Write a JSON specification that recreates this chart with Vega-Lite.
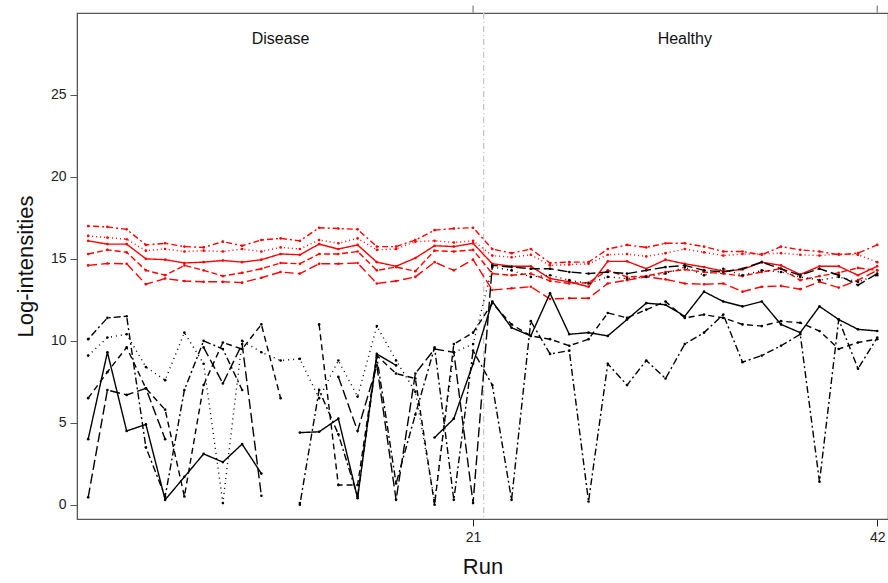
{
  "$schema": "https://vega.github.io/schema/vega-lite/v6.json",
  "width": 811,
  "height": 506,
  "autosize": "none",
  "padding": {"left": 77, "top": 13, "right": 0, "bottom": 64},
  "background": "white",
  "config": {
    "view": {"stroke": "#555", "strokeWidth": 1.2},
    "font": "Liberation Sans"
  },
  "datasets": {
    "lines": [
      {"run":1,"f":"R1","g":"red","v":17.0},{"run":2,"f":"R1","g":"red","v":16.95},{"run":3,"f":"R1","g":"red","v":16.8},{"run":4,"f":"R1","g":"red","v":15.85},{"run":5,"f":"R1","g":"red","v":15.95},{"run":6,"f":"R1","g":"red","v":15.75},{"run":7,"f":"R1","g":"red","v":15.7},{"run":8,"f":"R1","g":"red","v":16.05},{"run":9,"f":"R1","g":"red","v":15.8},{"run":10,"f":"R1","g":"red","v":16.15},{"run":11,"f":"R1","g":"red","v":16.25},{"run":12,"f":"R1","g":"red","v":16.1},{"run":13,"f":"R1","g":"red","v":16.9},{"run":14,"f":"R1","g":"red","v":16.85},{"run":15,"f":"R1","g":"red","v":16.8},{"run":16,"f":"R1","g":"red","v":15.75},{"run":17,"f":"R1","g":"red","v":15.75},{"run":18,"f":"R1","g":"red","v":16.15},{"run":19,"f":"R1","g":"red","v":16.75},{"run":20,"f":"R1","g":"red","v":16.85},{"run":21,"f":"R1","g":"red","v":16.9},
      {"run":22,"f":"R1","g":"red","v":15.6},{"run":23,"f":"R1","g":"red","v":15.35},{"run":24,"f":"R1","g":"red","v":15.6},{"run":25,"f":"R1","g":"red","v":14.75},{"run":26,"f":"R1","g":"red","v":14.8},{"run":27,"f":"R1","g":"red","v":14.8},{"run":28,"f":"R1","g":"red","v":15.6},{"run":29,"f":"R1","g":"red","v":15.85},{"run":30,"f":"R1","g":"red","v":15.7},{"run":31,"f":"R1","g":"red","v":15.95},{"run":32,"f":"R1","g":"red","v":15.95},{"run":33,"f":"R1","g":"red","v":15.75},{"run":34,"f":"R1","g":"red","v":15.45},{"run":35,"f":"R1","g":"red","v":15.45},{"run":36,"f":"R1","g":"red","v":15.25},{"run":37,"f":"R1","g":"red","v":15.75},{"run":38,"f":"R1","g":"red","v":15.55},{"run":39,"f":"R1","g":"red","v":15.45},{"run":40,"f":"R1","g":"red","v":15.25},{"run":41,"f":"R1","g":"red","v":15.35},{"run":42,"f":"R1","g":"red","v":15.85},

      {"run":1,"f":"R2","g":"red","v":16.4},{"run":2,"f":"R2","g":"red","v":16.3},{"run":3,"f":"R2","g":"red","v":16.2},{"run":4,"f":"R2","g":"red","v":15.5},{"run":5,"f":"R2","g":"red","v":15.6},{"run":6,"f":"R2","g":"red","v":15.45},{"run":7,"f":"R2","g":"red","v":15.5},{"run":8,"f":"R2","g":"red","v":15.45},{"run":9,"f":"R2","g":"red","v":15.6},{"run":10,"f":"R2","g":"red","v":15.45},{"run":11,"f":"R2","g":"red","v":15.7},{"run":12,"f":"R2","g":"red","v":15.6},{"run":13,"f":"R2","g":"red","v":16.15},{"run":14,"f":"R2","g":"red","v":15.95},{"run":15,"f":"R2","g":"red","v":16.25},{"run":16,"f":"R2","g":"red","v":15.55},{"run":17,"f":"R2","g":"red","v":15.6},{"run":18,"f":"R2","g":"red","v":16.05},{"run":19,"f":"R2","g":"red","v":16.1},{"run":20,"f":"R2","g":"red","v":16.0},{"run":21,"f":"R2","g":"red","v":16.1},
      {"run":22,"f":"R2","g":"red","v":15.2},{"run":23,"f":"R2","g":"red","v":15.1},{"run":24,"f":"R2","g":"red","v":15.25},{"run":25,"f":"R2","g":"red","v":14.6},{"run":26,"f":"R2","g":"red","v":14.65},{"run":27,"f":"R2","g":"red","v":14.7},{"run":28,"f":"R2","g":"red","v":15.25},{"run":29,"f":"R2","g":"red","v":15.3},{"run":30,"f":"R2","g":"red","v":15.15},{"run":31,"f":"R2","g":"red","v":15.35},{"run":32,"f":"R2","g":"red","v":15.6},{"run":33,"f":"R2","g":"red","v":15.4},{"run":34,"f":"R2","g":"red","v":15.2},{"run":35,"f":"R2","g":"red","v":15.3},{"run":36,"f":"R2","g":"red","v":15.3},{"run":37,"f":"R2","g":"red","v":15.35},{"run":38,"f":"R2","g":"red","v":15.25},{"run":39,"f":"R2","g":"red","v":15.2},{"run":40,"f":"R2","g":"red","v":15.3},{"run":41,"f":"R2","g":"red","v":15.25},{"run":42,"f":"R2","g":"red","v":14.8},

      {"run":1,"f":"R3","g":"red","v":16.1},{"run":2,"f":"R3","g":"red","v":15.9},{"run":3,"f":"R3","g":"red","v":15.9},{"run":4,"f":"R3","g":"red","v":15.0},{"run":5,"f":"R3","g":"red","v":14.95},{"run":6,"f":"R3","g":"red","v":14.75},{"run":7,"f":"R3","g":"red","v":14.8},{"run":8,"f":"R3","g":"red","v":14.9},{"run":9,"f":"R3","g":"red","v":14.8},{"run":10,"f":"R3","g":"red","v":14.95},{"run":11,"f":"R3","g":"red","v":15.3},{"run":12,"f":"R3","g":"red","v":15.25},{"run":13,"f":"R3","g":"red","v":15.9},{"run":14,"f":"R3","g":"red","v":15.6},{"run":15,"f":"R3","g":"red","v":15.85},{"run":16,"f":"R3","g":"red","v":14.8},{"run":17,"f":"R3","g":"red","v":14.55},{"run":18,"f":"R3","g":"red","v":15.05},{"run":19,"f":"R3","g":"red","v":15.8},{"run":20,"f":"R3","g":"red","v":15.75},{"run":21,"f":"R3","g":"red","v":15.95},
      {"run":22,"f":"R3","g":"red","v":14.7},{"run":23,"f":"R3","g":"red","v":14.55},{"run":24,"f":"R3","g":"red","v":14.55},{"run":25,"f":"R3","g":"red","v":13.8},{"run":26,"f":"R3","g":"red","v":13.6},{"run":27,"f":"R3","g":"red","v":13.3},{"run":28,"f":"R3","g":"red","v":14.85},{"run":29,"f":"R3","g":"red","v":14.85},{"run":30,"f":"R3","g":"red","v":14.4},{"run":31,"f":"R3","g":"red","v":14.95},{"run":32,"f":"R3","g":"red","v":14.7},{"run":33,"f":"R3","g":"red","v":14.5},{"run":34,"f":"R3","g":"red","v":14.25},{"run":35,"f":"R3","g":"red","v":14.35},{"run":36,"f":"R3","g":"red","v":14.8},{"run":37,"f":"R3","g":"red","v":14.6},{"run":38,"f":"R3","g":"red","v":14.05},{"run":39,"f":"R3","g":"red","v":14.55},{"run":40,"f":"R3","g":"red","v":14.55},{"run":41,"f":"R3","g":"red","v":14.0},{"run":42,"f":"R3","g":"red","v":14.55},

      {"run":1,"f":"R4","g":"red","v":15.3},{"run":2,"f":"R4","g":"red","v":15.55},{"run":3,"f":"R4","g":"red","v":15.4},{"run":4,"f":"R4","g":"red","v":14.3},{"run":5,"f":"R4","g":"red","v":14.0},{"run":6,"f":"R4","g":"red","v":14.6},{"run":7,"f":"R4","g":"red","v":14.3},{"run":8,"f":"R4","g":"red","v":13.95},{"run":9,"f":"R4","g":"red","v":14.15},{"run":10,"f":"R4","g":"red","v":14.4},{"run":11,"f":"R4","g":"red","v":14.75},{"run":12,"f":"R4","g":"red","v":14.7},{"run":13,"f":"R4","g":"red","v":15.3},{"run":14,"f":"R4","g":"red","v":15.3},{"run":15,"f":"R4","g":"red","v":15.45},{"run":16,"f":"R4","g":"red","v":14.3},{"run":17,"f":"R4","g":"red","v":14.5},{"run":18,"f":"R4","g":"red","v":14.25},{"run":19,"f":"R4","g":"red","v":15.5},{"run":20,"f":"R4","g":"red","v":15.45},{"run":21,"f":"R4","g":"red","v":15.55},
      {"run":22,"f":"R4","g":"red","v":14.1},{"run":23,"f":"R4","g":"red","v":14.0},{"run":24,"f":"R4","g":"red","v":14.1},{"run":25,"f":"R4","g":"red","v":13.65},{"run":26,"f":"R4","g":"red","v":13.5},{"run":27,"f":"R4","g":"red","v":13.55},{"run":28,"f":"R4","g":"red","v":14.3},{"run":29,"f":"R4","g":"red","v":13.9},{"run":30,"f":"R4","g":"red","v":13.95},{"run":31,"f":"R4","g":"red","v":14.2},{"run":32,"f":"R4","g":"red","v":14.35},{"run":33,"f":"R4","g":"red","v":14.2},{"run":34,"f":"R4","g":"red","v":14.1},{"run":35,"f":"R4","g":"red","v":13.95},{"run":36,"f":"R4","g":"red","v":14.2},{"run":37,"f":"R4","g":"red","v":14.4},{"run":38,"f":"R4","g":"red","v":13.7},{"run":39,"f":"R4","g":"red","v":13.95},{"run":40,"f":"R4","g":"red","v":14.15},{"run":41,"f":"R4","g":"red","v":14.45},{"run":42,"f":"R4","g":"red","v":14.3},

      {"run":1,"f":"R5","g":"red","v":14.6},{"run":2,"f":"R5","g":"red","v":14.72},{"run":3,"f":"R5","g":"red","v":14.7},{"run":4,"f":"R5","g":"red","v":13.45},{"run":5,"f":"R5","g":"red","v":13.8},{"run":6,"f":"R5","g":"red","v":13.65},{"run":7,"f":"R5","g":"red","v":13.6},{"run":8,"f":"R5","g":"red","v":13.6},{"run":9,"f":"R5","g":"red","v":13.55},{"run":10,"f":"R5","g":"red","v":13.85},{"run":11,"f":"R5","g":"red","v":14.2},{"run":12,"f":"R5","g":"red","v":14.1},{"run":13,"f":"R5","g":"red","v":14.7},{"run":14,"f":"R5","g":"red","v":14.7},{"run":15,"f":"R5","g":"red","v":14.75},{"run":16,"f":"R5","g":"red","v":13.5},{"run":17,"f":"R5","g":"red","v":13.65},{"run":18,"f":"R5","g":"red","v":13.9},{"run":19,"f":"R5","g":"red","v":14.8},{"run":20,"f":"R5","g":"red","v":14.3},{"run":21,"f":"R5","g":"red","v":14.95},
      {"run":22,"f":"R5","g":"red","v":13.1},{"run":23,"f":"R5","g":"red","v":13.2},{"run":24,"f":"R5","g":"red","v":13.3},{"run":25,"f":"R5","g":"red","v":12.55},{"run":26,"f":"R5","g":"red","v":12.6},{"run":27,"f":"R5","g":"red","v":12.6},{"run":28,"f":"R5","g":"red","v":13.5},{"run":29,"f":"R5","g":"red","v":13.7},{"run":30,"f":"R5","g":"red","v":13.9},{"run":31,"f":"R5","g":"red","v":13.75},{"run":32,"f":"R5","g":"red","v":13.5},{"run":33,"f":"R5","g":"red","v":13.45},{"run":34,"f":"R5","g":"red","v":13.5},{"run":35,"f":"R5","g":"red","v":13.0},{"run":36,"f":"R5","g":"red","v":13.3},{"run":37,"f":"R5","g":"red","v":13.35},{"run":38,"f":"R5","g":"red","v":13.15},{"run":39,"f":"R5","g":"red","v":13.6},{"run":40,"f":"R5","g":"red","v":13.25},{"run":41,"f":"R5","g":"red","v":13.7},{"run":42,"f":"R5","g":"red","v":14.3},

      {"run":1,"f":"B1","g":"black","v":4.0},{"run":2,"f":"B1","g":"black","v":9.3},{"run":3,"f":"B1","g":"black","v":4.5},{"run":4,"f":"B1","g":"black","v":4.9},{"run":5,"f":"B1","g":"black","v":0.3},{"run":6,"f":"B1","g":"black","v":1.7},{"run":7,"f":"B1","g":"black","v":3.1},{"run":8,"f":"B1","g":"black","v":2.6},{"run":9,"f":"B1","g":"black","v":3.7},{"run":10,"f":"B1","g":"black","v":1.9},{"run":11,"f":"B1","g":"black","v":null},{"run":12,"f":"B1","g":"black","v":4.4},{"run":13,"f":"B1","g":"black","v":4.45},{"run":14,"f":"B1","g":"black","v":5.25},{"run":15,"f":"B1","g":"black","v":0.4},{"run":16,"f":"B1","g":"black","v":9.2},{"run":17,"f":"B1","g":"black","v":8.5},{"run":18,"f":"B1","g":"black","v":null},{"run":19,"f":"B1","g":"black","v":4.1},{"run":20,"f":"B1","g":"black","v":5.25},{"run":21,"f":"B1","g":"black","v":8.6},
      {"run":22,"f":"B1","g":"black","v":12.4},{"run":23,"f":"B1","g":"black","v":10.8},{"run":24,"f":"B1","g":"black","v":10.3},{"run":25,"f":"B1","g":"black","v":12.9},{"run":26,"f":"B1","g":"black","v":10.4},{"run":27,"f":"B1","g":"black","v":10.5},{"run":28,"f":"B1","g":"black","v":10.3},{"run":29,"f":"B1","g":"black","v":11.3},{"run":30,"f":"B1","g":"black","v":12.3},{"run":31,"f":"B1","g":"black","v":12.2},{"run":32,"f":"B1","g":"black","v":11.5},{"run":33,"f":"B1","g":"black","v":13.0},{"run":34,"f":"B1","g":"black","v":12.4},{"run":35,"f":"B1","g":"black","v":12.1},{"run":36,"f":"B1","g":"black","v":12.4},{"run":37,"f":"B1","g":"black","v":11.0},{"run":38,"f":"B1","g":"black","v":10.5},{"run":39,"f":"B1","g":"black","v":12.1},{"run":40,"f":"B1","g":"black","v":11.3},{"run":41,"f":"B1","g":"black","v":10.7},{"run":42,"f":"B1","g":"black","v":10.6},

      {"run":1,"f":"B2","g":"black","v":6.5},{"run":2,"f":"B2","g":"black","v":8.1},{"run":3,"f":"B2","g":"black","v":9.6},{"run":4,"f":"B2","g":"black","v":7.1},{"run":5,"f":"B2","g":"black","v":5.8},{"run":6,"f":"B2","g":"black","v":0.5},{"run":7,"f":"B2","g":"black","v":7.3},{"run":8,"f":"B2","g":"black","v":9.9},{"run":9,"f":"B2","g":"black","v":9.5},{"run":10,"f":"B2","g":"black","v":11.0},{"run":11,"f":"B2","g":"black","v":6.5},{"run":12,"f":"B2","g":"black","v":null},{"run":13,"f":"B2","g":"black","v":11.0},{"run":14,"f":"B2","g":"black","v":1.2},{"run":15,"f":"B2","g":"black","v":1.2},{"run":16,"f":"B2","g":"black","v":9.1},{"run":17,"f":"B2","g":"black","v":8.0},{"run":18,"f":"B2","g":"black","v":7.7},{"run":19,"f":"B2","g":"black","v":0.0},{"run":20,"f":"B2","g":"black","v":9.8},{"run":21,"f":"B2","g":"black","v":10.5},
      {"run":22,"f":"B2","g":"black","v":12.3},{"run":23,"f":"B2","g":"black","v":11.0},{"run":24,"f":"B2","g":"black","v":10.3},{"run":25,"f":"B2","g":"black","v":10.1},{"run":26,"f":"B2","g":"black","v":9.7},{"run":27,"f":"B2","g":"black","v":10.1},{"run":28,"f":"B2","g":"black","v":11.7},{"run":29,"f":"B2","g":"black","v":11.4},{"run":30,"f":"B2","g":"black","v":11.9},{"run":31,"f":"B2","g":"black","v":12.4},{"run":32,"f":"B2","g":"black","v":11.4},{"run":33,"f":"B2","g":"black","v":11.6},{"run":34,"f":"B2","g":"black","v":11.4},{"run":35,"f":"B2","g":"black","v":11.0},{"run":36,"f":"B2","g":"black","v":10.9},{"run":37,"f":"B2","g":"black","v":11.2},{"run":38,"f":"B2","g":"black","v":11.1},{"run":39,"f":"B2","g":"black","v":10.6},{"run":40,"f":"B2","g":"black","v":9.5},{"run":41,"f":"B2","g":"black","v":9.9},{"run":42,"f":"B2","g":"black","v":10.1},

      {"run":1,"f":"B3","g":"black","v":9.1},{"run":2,"f":"B3","g":"black","v":10.2},{"run":3,"f":"B3","g":"black","v":10.4},{"run":4,"f":"B3","g":"black","v":8.4},{"run":5,"f":"B3","g":"black","v":7.6},{"run":6,"f":"B3","g":"black","v":10.5},{"run":7,"f":"B3","g":"black","v":8.6},{"run":8,"f":"B3","g":"black","v":0.1},{"run":9,"f":"B3","g":"black","v":10.0},{"run":10,"f":"B3","g":"black","v":9.3},{"run":11,"f":"B3","g":"black","v":8.8},{"run":12,"f":"B3","g":"black","v":8.9},{"run":13,"f":"B3","g":"black","v":6.5},{"run":14,"f":"B3","g":"black","v":8.8},{"run":15,"f":"B3","g":"black","v":6.6},{"run":16,"f":"B3","g":"black","v":10.9},{"run":17,"f":"B3","g":"black","v":8.8},{"run":18,"f":"B3","g":"black","v":6.9},{"run":19,"f":"B3","g":"black","v":0.2},{"run":20,"f":"B3","g":"black","v":9.3},{"run":21,"f":"B3","g":"black","v":9.8},
      {"run":22,"f":"B3","g":"black","v":14.5},{"run":23,"f":"B3","g":"black","v":14.3},{"run":24,"f":"B3","g":"black","v":13.9},{"run":25,"f":"B3","g":"black","v":14.0},{"run":26,"f":"B3","g":"black","v":13.7},{"run":27,"f":"B3","g":"black","v":13.5},{"run":28,"f":"B3","g":"black","v":13.9},{"run":29,"f":"B3","g":"black","v":13.8},{"run":30,"f":"B3","g":"black","v":13.9},{"run":31,"f":"B3","g":"black","v":14.1},{"run":32,"f":"B3","g":"black","v":14.5},{"run":33,"f":"B3","g":"black","v":14.0},{"run":34,"f":"B3","g":"black","v":14.4},{"run":35,"f":"B3","g":"black","v":14.0},{"run":36,"f":"B3","g":"black","v":14.3},{"run":37,"f":"B3","g":"black","v":14.2},{"run":38,"f":"B3","g":"black","v":13.9},{"run":39,"f":"B3","g":"black","v":13.7},{"run":40,"f":"B3","g":"black","v":13.9},{"run":41,"f":"B3","g":"black","v":13.6},{"run":42,"f":"B3","g":"black","v":14.0},

      {"run":1,"f":"B4","g":"black","v":10.1},{"run":2,"f":"B4","g":"black","v":11.4},{"run":3,"f":"B4","g":"black","v":11.5},{"run":4,"f":"B4","g":"black","v":3.5},{"run":5,"f":"B4","g":"black","v":0.5},{"run":6,"f":"B4","g":"black","v":7.0},{"run":7,"f":"B4","g":"black","v":10.0},{"run":8,"f":"B4","g":"black","v":9.5},{"run":9,"f":"B4","g":"black","v":7.0},{"run":10,"f":"B4","g":"black","v":null},{"run":11,"f":"B4","g":"black","v":null},{"run":12,"f":"B4","g":"black","v":0.0},{"run":13,"f":"B4","g":"black","v":7.0},{"run":14,"f":"B4","g":"black","v":4.3},{"run":15,"f":"B4","g":"black","v":0.5},{"run":16,"f":"B4","g":"black","v":9.0},{"run":17,"f":"B4","g":"black","v":1.3},{"run":18,"f":"B4","g":"black","v":5.5},{"run":19,"f":"B4","g":"black","v":9.6},{"run":20,"f":"B4","g":"black","v":0.3},{"run":21,"f":"B4","g":"black","v":9.4},
      {"run":22,"f":"B4","g":"black","v":7.3},{"run":23,"f":"B4","g":"black","v":0.3},{"run":24,"f":"B4","g":"black","v":11.2},{"run":25,"f":"B4","g":"black","v":9.2},{"run":26,"f":"B4","g":"black","v":9.4},{"run":27,"f":"B4","g":"black","v":0.2},{"run":28,"f":"B4","g":"black","v":8.6},{"run":29,"f":"B4","g":"black","v":7.3},{"run":30,"f":"B4","g":"black","v":8.8},{"run":31,"f":"B4","g":"black","v":7.7},{"run":32,"f":"B4","g":"black","v":9.8},{"run":33,"f":"B4","g":"black","v":10.5},{"run":34,"f":"B4","g":"black","v":11.6},{"run":35,"f":"B4","g":"black","v":8.7},{"run":36,"f":"B4","g":"black","v":9.1},{"run":37,"f":"B4","g":"black","v":9.7},{"run":38,"f":"B4","g":"black","v":10.4},{"run":39,"f":"B4","g":"black","v":1.4},{"run":40,"f":"B4","g":"black","v":11.3},{"run":41,"f":"B4","g":"black","v":8.3},{"run":42,"f":"B4","g":"black","v":10.2},

      {"run":1,"f":"B5","g":"black","v":0.45},{"run":2,"f":"B5","g":"black","v":7.0},{"run":3,"f":"B5","g":"black","v":6.7},{"run":4,"f":"B5","g":"black","v":7.1},{"run":5,"f":"B5","g":"black","v":4.0},{"run":6,"f":"B5","g":"black","v":null},{"run":7,"f":"B5","g":"black","v":9.6},{"run":8,"f":"B5","g":"black","v":7.4},{"run":9,"f":"B5","g":"black","v":9.8},{"run":10,"f":"B5","g":"black","v":0.55},{"run":11,"f":"B5","g":"black","v":null},{"run":12,"f":"B5","g":"black","v":0.1},{"run":13,"f":"B5","g":"black","v":null},{"run":14,"f":"B5","g":"black","v":7.8},{"run":15,"f":"B5","g":"black","v":4.5},{"run":16,"f":"B5","g":"black","v":8.5},{"run":17,"f":"B5","g":"black","v":0.3},{"run":18,"f":"B5","g":"black","v":8.0},{"run":19,"f":"B5","g":"black","v":9.5},{"run":20,"f":"B5","g":"black","v":9.3},{"run":21,"f":"B5","g":"black","v":0.1},
      {"run":22,"f":"B5","g":"black","v":14.6},{"run":23,"f":"B5","g":"black","v":14.5},{"run":24,"f":"B5","g":"black","v":14.4},{"run":25,"f":"B5","g":"black","v":14.4},{"run":26,"f":"B5","g":"black","v":14.2},{"run":27,"f":"B5","g":"black","v":14.1},{"run":28,"f":"B5","g":"black","v":14.2},{"run":29,"f":"B5","g":"black","v":14.1},{"run":30,"f":"B5","g":"black","v":14.3},{"run":31,"f":"B5","g":"black","v":14.5},{"run":32,"f":"B5","g":"black","v":14.6},{"run":33,"f":"B5","g":"black","v":14.3},{"run":34,"f":"B5","g":"black","v":14.2},{"run":35,"f":"B5","g":"black","v":14.4},{"run":36,"f":"B5","g":"black","v":14.8},{"run":37,"f":"B5","g":"black","v":14.4},{"run":38,"f":"B5","g":"black","v":14.0},{"run":39,"f":"B5","g":"black","v":14.4},{"run":40,"f":"B5","g":"black","v":14.0},{"run":41,"f":"B5","g":"black","v":13.4},{"run":42,"f":"B5","g":"black","v":14.1}
    ],
    "labels": [
      {"run": 11, "v": 28.4, "label": "Disease"},
      {"run": 32, "v": 28.4, "label": "Healthy"}
    ],
    "divider": [{"run": 21.55}]
  },
  "encoding": {
    "x": {
      "field": "run", "type": "quantitative",
      "scale": {"domain": [0.42, 42.56], "nice": false, "zero": false},
      "axis": {
        "values": [21, 42], "title": "Run", "grid": false,
        "labelFontSize": 14, "titleFontSize": 22, "titleFontWeight": "normal",
        "titlePadding": 12, "tickSize": 7, "labelPadding": 4,
        "domainColor": "#555", "tickColor": "#222", "labelColor": "#222", "titleColor": "#111"
      }
    },
    "y": {
      "field": "v", "type": "quantitative",
      "scale": {"domain": [-0.87, 30], "nice": false, "zero": false},
      "axis": {
        "values": [0, 5, 10, 15, 20, 25], "title": "Log-intensities", "grid": false,
        "labelFontSize": 14, "titleFontSize": 22, "titleFontWeight": "normal",
        "titlePadding": 13, "tickSize": 7, "labelPadding": 4,
        "domainColor": "#555", "tickColor": "#555", "labelColor": "#222", "titleColor": "#111"
      }
    }
  },
  "layer": [
    {
      "data": {"name": "divider"},
      "mark": {"type": "rule", "color": "#c8c8c8", "strokeDash": [6, 3, 1, 3], "strokeWidth": 1.3},
      "encoding": {"y": {"value": 0}, "y2": {"value": 506}}
    },
    {
      "data": {"name": "lines"},
      "mark": {"type": "line", "strokeWidth": 1.4, "invalid": "break-paths-show-domains", "clip": true},
      "encoding": {
        "detail": {"field": "f"},
        "color": {"field": "g", "type": "nominal", "scale": {"domain": ["red", "black"], "range": ["#ff0000", "#000000"]}, "legend": null},
        "strokeDash": {"field": "f", "type": "nominal", "scale": {"domain": ["R1","R2","R3","R4","R5","B1","B2","B3","B4","B5"], "range": [[2,3,6,3],[1,3],[1,0],[6,3],[9,4],[1,0],[6,4],[1,4],[2,3,7,3],[10,4]]}, "legend": null}
      }
    },
    {
      "data": {"name": "lines"},
      "mark": {"type": "point", "filled": true, "size": 7, "opacity": 1, "clip": true},
      "encoding": {
        "color": {"field": "g", "type": "nominal", "scale": {"domain": ["red", "black"], "range": ["#ff0000", "#000000"]}, "legend": null}
      }
    },
    {
      "data": {"name": "labels"},
      "mark": {"type": "text", "fontSize": 16, "color": "#111", "font": "Liberation Sans"},
      "encoding": {"text": {"field": "label"}}
    },
    {
      "data": {"values": [{"run": 21}, {"run": 42}]},
      "mark": {"type": "tick", "orient": "vertical", "color": "#222", "size": 7, "thickness": 1},
      "encoding": {"y": {"value": -4}}
    }
  ]
}
